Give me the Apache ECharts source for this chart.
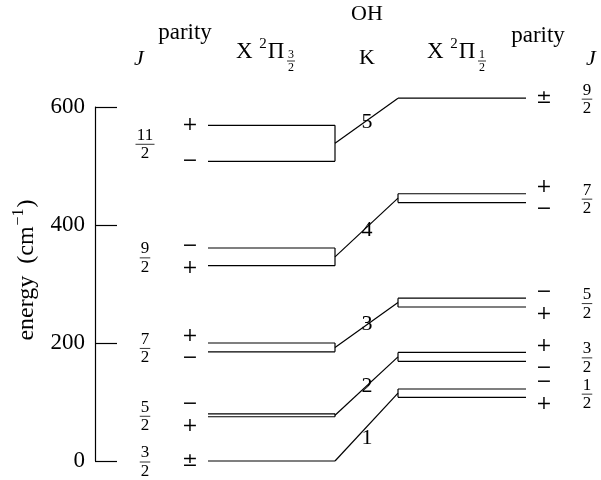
<!DOCTYPE html>
<html><head><meta charset="utf-8">
<script src="https://cdn.jsdelivr.net/npm/echarts@6/dist/echarts.min.js"></script>
<style>html,body{margin:0;padding:0;background:#fff}#c{width:601px;height:480px}</style>
</head><body><div id="c"></div>
<script>
// ---- data ----
const yTicks = [0, 200, 400, 600];
const leftJNum = ['3', '5', '7', '9', '11'];
const leftJDen = ['2', '2', '2', '2', '2'];
const leftUpper = [0, 80, 200, 361, 569];
const leftLower = [0, 75, 185, 331, 508];
const leftParityUpper = ['±', '−', '+', '−', '+'];
const leftParityLower = ['±', '+', '−', '+', '−'];
const rightJNum = ['1', '3', '5', '7', '9'];
const rightJDen = ['2', '2', '2', '2', '2'];
const rightUpper = [122, 184, 276, 453, 615];
const rightLower = [108, 169, 261, 438, 615];
const rightParityUpper = ['−', '+', '−', '+', '±'];
const rightParityLower = ['+', '−', '+', '−', '±'];
const kLabels = ['1', '2', '3', '4', '5'];

// ---- layout / style ----
const SERIF = '"Liberation Serif", "DejaVu Serif", serif';
const SIGN = '"DejaVu Serif", serif';
const L = {x0: 208, x1: 335, parityX: 190, jX: 145};
const R = {x0: 398, x1: 526, parityX: 544, jX: 587};
const K_LABEL_X = 367;
const K_LABEL_DY = [12, 1, 0, 3, 2];
const LW = 1.2, INK = '#000';

function line(x1, y1, x2, y2) {
  return {type: 'line', shape: {x1, y1, x2, y2}, style: {stroke: INK, lineWidth: LW}};
}
function text(t, x, y, size, family, align, valign, extra) {
  return Object.assign({type: 'text', style: {text: t, x, y, fill: INK, fontSize: size, fontFamily: family,
    align: align || 'center', verticalAlign: valign || 'middle', textAlign: align || 'center', textVerticalAlign: valign || 'middle'}}, extra || {});
}
function frac(num, den, cx, cy, size) {
  const w = Math.max(num.length, den.length) * size * 0.5 + 2;
  return [
    text(num, cx, cy - 0.5, size, SERIF, 'center', 'bottom'),
    {type: 'line', shape: {x1: cx - w / 2, y1: cy, x2: cx + w / 2, y2: cy}, style: {stroke: INK, lineWidth: 0.8}},
    text(den, cx, cy + 1, size, SERIF, 'center', 'top')
  ];
}
function parityPair(up, lo, x, yU, yL) {
  if (yU === yL) return [text(up, x, yU, 19, SIGN)];
  const mid = (yU + yL) / 2;
  const off = Math.max((yL - yU) / 2, 11);
  return [text(up, x, mid - off, 19, SIGN), text(lo, x, mid + off, 19, SIGN)];
}

function renderLevels(side, pu, pl, jn, jd) {
  return function (params, api) {
    const i = api.value(0);
    const yU = api.coord([side.x0, api.value(1)])[1];
    const yL = api.coord([side.x0, api.value(2)])[1];
    const ch = [line(side.x0, yU, side.x1, yU)];
    if (Math.abs(yL - yU) > 0.5) {
      ch.push(line(side.x0, yL, side.x1, yL));
      const vx = side === L ? side.x1 : side.x0;
      ch.push(line(vx, yU, vx, yL));
    }
    ch.push(...parityPair(pu[i], pl[i], side.parityX, yU, yL));
    ch.push(...frac(jn[i], jd[i], side.jX, (yU + yL) / 2 + 1, 17));
    return {type: 'group', children: ch};
  };
}
function renderK(params, api) {
  const i = api.value(0);
  const a = api.coord([L.x1, api.value(1)]);
  const b = api.coord([R.x0, api.value(2)]);
  const t = (K_LABEL_X - a[0]) / (b[0] - a[0]);
  const ly = a[1] + (b[1] - a[1]) * t + K_LABEL_DY[i];
  return {type: 'group', children: [
    line(a[0], a[1], b[0], b[1]),
    text(kLabels[i], K_LABEL_X, ly, 22, SERIF)
  ]};
}

const leftData = leftUpper.map((u, i) => [i, u, leftLower[i]]);
const rightData = rightUpper.map((u, i) => [i, u, rightLower[i]]);
const kData = kLabels.map((k, i) => [i, (leftUpper[i] + leftLower[i]) / 2, (rightUpper[i] + rightLower[i]) / 2]);

function header(xLeft, y) {
  return {type: 'text', style: {text: '{a|X }{s|2}{a|Π}', x: xLeft, y: y, align: 'left', verticalAlign: 'middle',
      rich: {a: {fontSize: 23, fontFamily: SERIF, fill: INK, lineHeight: 26, verticalAlign: 'bottom'},
             s: {fontSize: 15, fontFamily: SERIF, fill: INK, verticalAlign: 'top', lineHeight: 15, padding: [0, 1, 0, 1]}}}};
}

const chart = echarts.init(document.getElementById('c'), null, {renderer: 'canvas'});
chart.setOption({
  animation: false,
  backgroundColor: '#fff',
  grid: {left: 95, right: 0, top: 107, bottom: 19},
  xAxis: {type: 'value', min: 95, max: 601, show: false},
  yAxis: {type: 'value', min: yTicks[0], max: yTicks[yTicks.length - 1], interval: yTicks[1] - yTicks[0],
    axisLine: {show: true, lineStyle: {color: INK, width: LW}},
    axisTick: {show: true, inside: true, length: 22, lineStyle: {color: INK, width: LW}},
    axisLabel: {color: INK, fontSize: 23, fontFamily: SERIF, margin: 10},
    splitLine: {show: false}},
  series: [
    {type: 'custom', clip: false, data: leftData, renderItem: renderLevels(L, leftParityUpper, leftParityLower, leftJNum, leftJDen)},
    {type: 'custom', clip: false, data: rightData, renderItem: renderLevels(R, rightParityUpper, rightParityLower, rightJNum, rightJDen)},
    {type: 'custom', clip: false, data: kData, renderItem: renderK}
  ],
  graphic: [
    {type: 'text', x: 367, y: 14, style: {text: 'OH', fontSize: 22, fontFamily: SERIF, fill: INK, align: 'center', verticalAlign: 'middle'}},
    {type: 'text', x: 367, y: 58, style: {text: 'K', fontSize: 22, fontFamily: SERIF, fill: INK, align: 'center', verticalAlign: 'middle'}},
    {type: 'text', x: 139, y: 59, style: {text: 'J', fontSize: 22, fontStyle: 'italic', fontFamily: SERIF, fill: INK, align: 'center', verticalAlign: 'middle'}},
    {type: 'text', x: 591, y: 59, style: {text: 'J', fontSize: 22, fontStyle: 'italic', fontFamily: SERIF, fill: INK, align: 'center', verticalAlign: 'middle'}},
    {type: 'text', x: 185, y: 33, style: {text: 'parity', fontSize: 23, fontFamily: SERIF, fill: INK, align: 'center', verticalAlign: 'middle'}},
    {type: 'text', x: 538, y: 36, style: {text: 'parity', fontSize: 23, fontFamily: SERIF, fill: INK, align: 'center', verticalAlign: 'middle'}},
    header(236, 50),
    {type: 'group', children: frac('3', '2', 291, 61, 12)},
    header(427, 50),
    {type: 'group', children: frac('1', '2', 482, 61, 12)},
    {type: 'text', x: 25, y: 270, rotation: Math.PI / 2, style: {text: '{a|energy\u2002(cm}{s|−1}{a|)}', align: 'center', verticalAlign: 'middle',
      rich: {a: {fontSize: 24, fontFamily: SERIF, fill: INK, lineHeight: 28, verticalAlign: 'bottom'},
             s: {fontSize: 16, fontFamily: SERIF, fill: INK, verticalAlign: 'top', lineHeight: 16, padding: [0, 1, 0, 1]}}}}
  ]
});
</script></body></html>
